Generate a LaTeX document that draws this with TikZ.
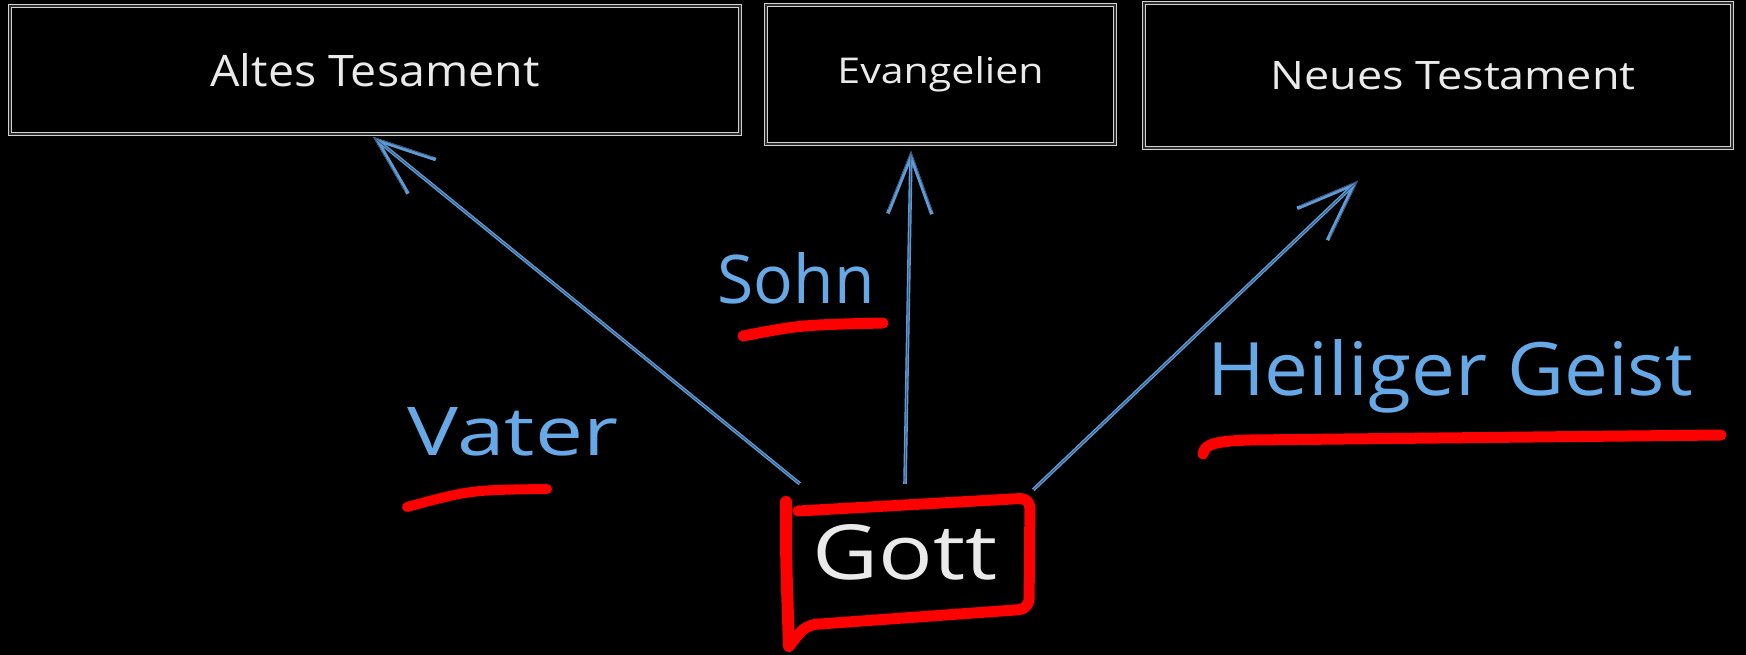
\documentclass[tikz,border=0pt]{standalone}
\usepackage{fontspec}
\usepackage{graphicx}
\setmainfont{Open Sans}
\usetikzlibrary{arrows.meta}
\definecolor{boxgray}{HTML}{D2D2D2}
\definecolor{txtwhite}{HTML}{EAEAEA}
\definecolor{lblue}{HTML}{67A9E6}
\definecolor{ablue}{HTML}{5E9BD6}
\definecolor{penred}{HTML}{FF0000}
\begin{document}
\begin{tikzpicture}[x=1pt,y=-1pt,
  sbox/.style={draw=boxgray, line width=1.6pt, double=gray!35!black, double distance=1.4pt,
    inner sep=0pt, text=txtwhite, rectangle},
  txt/.style={inner sep=0pt, text=txtwhite},
  lbl/.style={inner sep=0pt, text=lblue, anchor=base},
  arr/.style={draw=ablue, line width=3.6pt, -{Straight Barb[length=58pt,width=44pt]},
    postaction={draw=ablue!55!black, line width=0.8pt}},
  redpen/.style={draw=penred, line width=11pt, line cap=round, line join=round}]
\fill[black] (0,0) rectangle (1746,655);
\useasboundingbox (0,0) rectangle (1746,655);

% boxes
\node[sbox, minimum width=730pt, minimum height=128pt] (altes) at (375,70)
  {\resizebox{329pt}{33pt}{Altes Tesament}};
\node[sbox, minimum width=349pt, minimum height=139pt] (evang) at (940.5,74.5)
  {\resizebox{206pt}{27pt}{Evangelien}};
\node[sbox, minimum width=588pt, minimum height=145pt] (neues) at (1438,75.5)
  {\hspace*{30pt}\resizebox{365pt}{28pt}{Neues Testament}};

% Gott
\node[txt, minimum width=240pt, minimum height=117pt] (gott) at (905,552.5)
  {\resizebox{185pt}{55pt}{Gott}};
\draw[redpen, rounded corners=10pt] (798,511) -- (1030,498) -- (1029,609) -- (806,625) -- (790,645);
\draw[redpen, line width=12pt] (786,502) .. controls (786,560) .. (789,646);

% arrows
\draw[arr] ([shift={(15,-10)}]gott.north west) -- ([shift={(-2,2)}]altes.south);
\draw[arr] ([shift={(0,-10)}]gott.north) -- ([shift={(-29.5,6)}]evang.south);
\draw[arr] ([shift={(8,-4)}]gott.north east) -- ([shift={(-80,32)}]neues.south);

% labels
\node[lbl] (vater) at (513,455) {\resizebox{210pt}{48pt}{Vater}};
\node[lbl] (sohn) at (796,303) {\resizebox{157pt}{51pt}{Sohn}};
\node[lbl] (geist) at (1450,395) {\resizebox{486pt}{56pt}{Heiliger Geist}};

% underlines
\draw[redpen, line width=10pt] (407,507) .. controls (470,490) .. (547,489);
\draw[redpen, line width=11pt] (743,336) .. controls (800,325) .. (883,323);
\draw[redpen, line width=11pt] (1203,454) .. controls (1204,443) and (1220,441) .. (1250,440) -- (1721,435);
\end{tikzpicture}
\end{document}
